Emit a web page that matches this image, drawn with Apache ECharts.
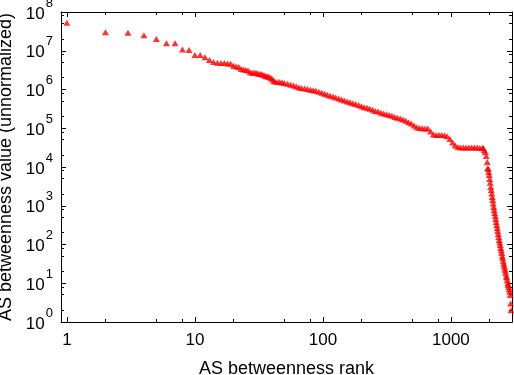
<!DOCTYPE html>
<html><head><meta charset="utf-8">
<script src="https://cdn.jsdelivr.net/npm/echarts@6/dist/echarts.min.js"></script>
<style>html,body{margin:0;padding:0;background:#fff}#c{width:514px;height:375px}</style>
</head><body><div id="c"></div>
<script>
// AS betweenness rank (x) and unnormalized betweenness value (y)
const ranks = [
  1,2,3,4,5,6,7,8,9,10,11,12,13,14,15,16,17,18,19,20,21,22,23,24,25,26,27,28,29,30,
  31,32,33,34,35,36,37,38,39,40,41,42,44,46,48,50,53,56,59,62,65,68,72,76,80,84,88,93,98,
  103,108,114,120,126,133,140,147,155,163,171,180,190,200,210,221,232,244,256,270,284,298,
  313,329,346,364,382,402,422,444,466,490,515,541,569,598,628,660,694,729,766,805,846,889,
  934,982,1030,1080,1135,1190,1250,1315,1380,1450,1525,1600,1680,1765,
  1787,1820,1853,1887,1921,1940,1956,1975,1992,2010,2028,2046,2065,2083,2102,2121,2141,2160,
  2180,2200,2219,2240,2259,2280,2301,2320,2342,2364,2385,2407,2429,2451,2473,2495,2517,2540,
  2564,2587,2610,2634,2657,2681,2705,2730,2755,2780,2804,2830,2856,2880,2908,2930,2950
];
const betweenness = [
  5.3e7,3.0e7,2.9e7,2.5e7,2.0e7,1.56e7,1.56e7,1.07e7,1.05e7,7.8e6,7.8e6,6.8e6,5.8e6,5.1e6,4.9e6,
  4.8e6,4.8e6,4.7e6,4.6e6,4.1e6,3.9e6,3.8e6,3.4e6,3.3e6,3.2e6,3.1e6,2.8e6,2.7e6,2.7e6,2.7e6,
  2.6e6,2.5e6,2.5e6,2.4e6,2.3e6,2.2e6,2.2e6,2.1e6,2.0e6,1.9e6,1.7e6,1.6e6,1.56e6,1.55e6,1.52e6,
  1.47e6,1.40e6,1.33e6,1.26e6,1.19e6,1.12e6,1.09e6,1.06e6,1.03e6,9.9e5,9.6e5,9.3e5,8.8e5,8.3e5,
  7.8e5,7.3e5,6.9e5,6.6e5,6.2e5,5.9e5,5.5e5,5.2e5,4.9e5,4.7e5,4.4e5,4.2e5,4.0e5,3.7e5,3.5e5,
  3.4e5,3.2e5,3.0e5,2.8e5,2.7e5,2.5e5,2.4e5,2.3e5,2.2e5,2.1e5,1.96e5,1.87e5,1.79e5,1.68e5,
  1.55e5,1.43e5,1.32e5,1.18e5,1.06e5,1.01e5,1.0e5,9.9e4,9.8e4,8.2e4,6.9e4,6.7e4,6.7e4,6.7e4,
  6.6e4,6.2e4,5.3e4,4.3e4,3.6e4,3.3e4,3.2e4,3.2e4,3.2e4,3.2e4,3.2e4,3.2e4,3.2e4,3.1e4,3.1e4,
  3.09e4,2.75e4,2.44e4,1.92e4,1.35e4,9.4e3,8.9e3,7.4e3,6.2e3,4.9e3,3.9e3,3.05e3,2.55e3,2.07e3,
  1.68e3,1.41e3,1.14e3,929,777,650,544,455,381,319,267,223,187,156,131,113,97,81,70,60,50,44,
  37,32,28,24,21,18,15,14,12,10,9,8,7,6,5,3,2
];
const xMinorTicks = [2,5,8,20,50,80,200,500,800,2000];
const yMinorTicks = [2,5,8,20,50,80,200,500,800,2e3,5e3,8e3,2e4,5e4,8e4,2e5,5e5,8e5,2e6,5e6,8e6,2e7,5e7,8e7];
const xName = 'AS betweenness rank';
const yName = 'AS betweenness value (unnormalized)';

const FONT = '"Liberation Sans", Arial, Helvetica, sans-serif';
const isPow = v => Math.abs(Math.log10(v) - Math.round(Math.log10(v))) < 1e-6;
const points = ranks.map((r, i) => [r, betweenness[i]]);

const lineStyle = {color: '#000', width: 1};
const baseX = {
  type: 'log', logBase: 10, min: 0.9, max: 3000,
  axisLine: {show: true, onZero: false, lineStyle},
  axisTick: {show: true, inside: true, length: 5, lineStyle},
  splitLine: {show: false}, minorTick: {show: false}
};
const baseY = {
  type: 'log', logBase: 10, min: 1, max: 1e8,
  axisLine: {show: true, onZero: false, lineStyle},
  axisTick: {show: true, inside: true, length: 5, lineStyle},
  splitLine: {show: false}, minorTick: {show: false}
};

function crisp(v) { return Math.round(v - 0.5) + 0.5; }

const chart = echarts.init(document.getElementById('c'), null, {renderer: 'canvas'});
chart.setOption({
  animation: false,
  backgroundColor: '#fff',
  grid: {left: 61, right: 2, top: 12, bottom: 53, containLabel: false, outerBoundsMode: 'none'},
  xAxis: [
    Object.assign({}, baseX, {
      position: 'bottom',
      axisLabel: {color: '#000', fontSize: 17, fontFamily: FONT, margin: 10,
        formatter: v => isPow(v) ? String(Math.round(v)) : ''},
      name: xName, nameLocation: 'middle', nameGap: 38,
      nameTextStyle: {color: '#000', fontSize: 18, fontFamily: FONT}
    }),
    Object.assign({}, baseX, {position: 'top', axisLabel: {show: false}})
  ],
  yAxis: [
    Object.assign({}, baseY, {
      position: 'left',
      axisLabel: {
        margin: 8, lineHeight: 26, padding: [0, 0, 5, 0],
        formatter: v => isPow(v) ? '{b|10}{s|' + Math.round(Math.log10(v)) + '}' : '',
        rich: {
          b: {fontSize: 17, fontFamily: FONT, color: '#000', verticalAlign: 'bottom'},
          s: {fontSize: 13, fontFamily: FONT, color: '#000', verticalAlign: 'top', padding: [0, 0, 0, 1]}
        }
      },
      name: yName, nameLocation: 'middle', nameGap: 43,
      nameTextStyle: {color: '#000', fontSize: 18, fontFamily: FONT}
    }),
    Object.assign({}, baseY, {position: 'right', axisLabel: {show: false}})
  ],
  series: [
    {
      type: 'custom', xAxisIndex: 0, yAxisIndex: 0, silent: true, clip: false, z: 1,
      data: xMinorTicks.map(v => [v, 1]), encode: {x: 0, y: 1},
      renderItem: (params, api) => {
        const cs = params.coordSys;
        const x = crisp(api.coord([api.value(0), 1])[0]);
        const b = cs.y + cs.height;
        return {type: 'group', children: [
          {type: 'line', shape: {x1: x, y1: b, x2: x, y2: b - 3}, style: {stroke: '#000', lineWidth: 1}},
          {type: 'line', shape: {x1: x, y1: cs.y, x2: x, y2: cs.y + 3}, style: {stroke: '#000', lineWidth: 1}}
        ]};
      }
    },
    {
      type: 'custom', xAxisIndex: 0, yAxisIndex: 0, silent: true, clip: false, z: 1,
      data: yMinorTicks.map(v => [1, v]), encode: {x: 0, y: 1},
      renderItem: (params, api) => {
        const cs = params.coordSys;
        const y = crisp(api.coord([1, api.value(1)])[1]);
        const r = cs.x + cs.width;
        return {type: 'group', children: [
          {type: 'line', shape: {x1: cs.x, y1: y, x2: cs.x + 3, y2: y}, style: {stroke: '#000', lineWidth: 1}},
          {type: 'line', shape: {x1: r, y1: y, x2: r - 3, y2: y}, style: {stroke: '#000', lineWidth: 1}}
        ]};
      }
    },
    {
      type: 'scatter', xAxisIndex: 0, yAxisIndex: 0, z: 3,
      symbol: 'triangle', symbolSize: [7, 6],
      itemStyle: {color: '#ff0000'},
      data: points
    }
  ]
});
</script>
</body></html>
